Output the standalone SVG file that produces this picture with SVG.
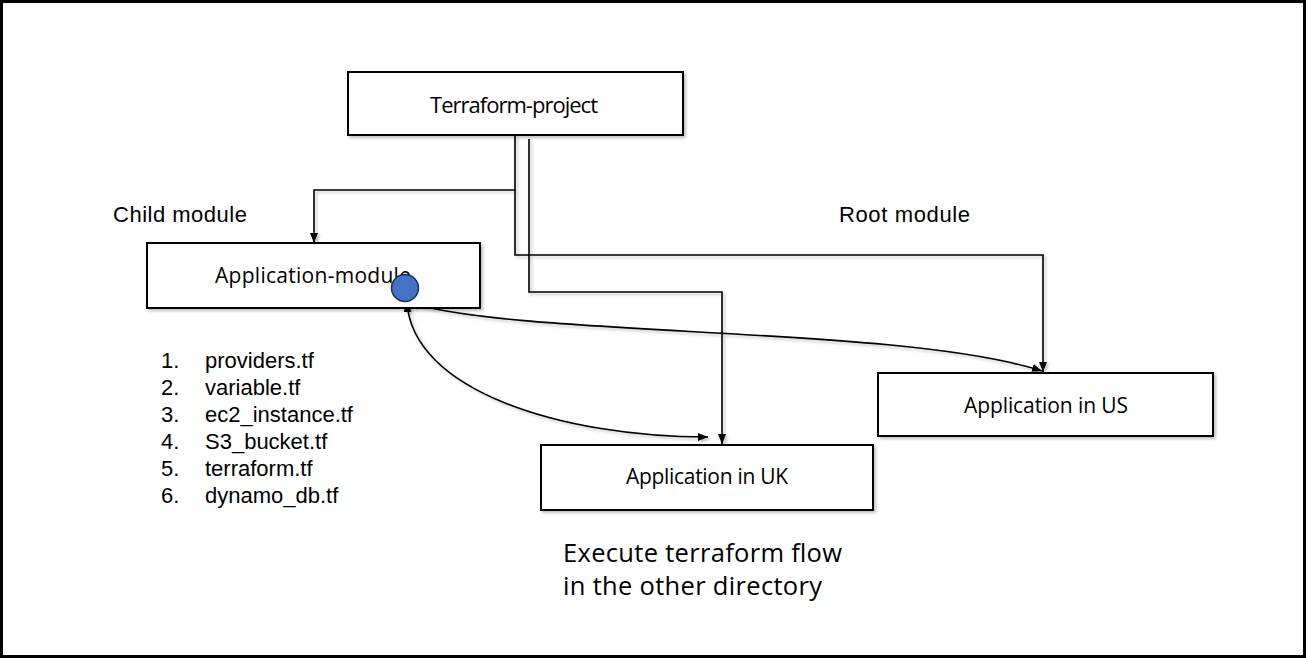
<svg xmlns="http://www.w3.org/2000/svg" width="1306" height="659" viewBox="0 0 1306 659">
<style>
.box{fill:#fff;stroke:#000;stroke-width:2}
.lbl{font-family:"Open Sans",Lato,sans-serif;fill:#000}
.ar{font-family:"Liberation Sans",Arial,sans-serif;fill:#000}
.ln{fill:none;stroke:#000;stroke-width:1.6}
</style>
<defs>
<filter id="sh" x="-10%" y="-10%" width="130%" height="140%">
<feDropShadow dx="2" dy="2" stdDeviation="1.5" flood-color="#000" flood-opacity="0.25"/>
</filter>
<marker id="ah" viewBox="0 0 10 8" refX="10" refY="4" markerWidth="10" markerHeight="8" markerUnits="userSpaceOnUse" orient="auto-start-reverse">
<path d="M0,0 L10,4 L0,8 z" fill="#000"/>
</marker>
</defs>
<rect x="1.5" y="1.5" width="1303" height="655" fill="#fff" stroke="#000" stroke-width="3"/>

<g id="connectors" filter="url(#sh)">
<path class="ln" d="M515,136 V255 H1043 V372" marker-end="url(#ah)"/>
<path class="ln" d="M515,190 H314 V243" marker-end="url(#ah)"/>
<path class="ln" d="M529,139 V292 H722 V444" marker-end="url(#ah)"/>
<path class="ln" d="M407,302 C412,390 560,437 708,437" marker-start="url(#ah)" marker-end="url(#ah)"/>
<path class="ln" d="M407,302 C520,338 900,325 1042,371" marker-start="url(#ah)" marker-end="url(#ah)"/>
</g>

<g id="terraform-project">
<rect class="box" x="348" y="72" width="335" height="63" filter="url(#sh)"/>
<text class="lbl" x="430" y="113" font-size="22" textLength="168">Terraform-project</text>
</g>

<g id="application-module">
<rect class="box" x="147" y="243" width="333" height="65" filter="url(#sh)"/>
<text class="lbl" x="215" y="283" font-size="21" textLength="196">Application-module</text>
</g>

<g id="application-uk">
<rect class="box" x="541" y="445" width="332" height="65" filter="url(#sh)"/>
<text class="lbl" x="626" y="484" font-size="21" textLength="162">Application in UK</text>
</g>

<g id="application-us">
<rect class="box" x="878" y="373" width="335" height="63" filter="url(#sh)"/>
<text class="lbl" x="964" y="413" font-size="21" textLength="164">Application in US</text>
</g>

<g id="module-dot">
<circle cx="405" cy="288" r="13.5" fill="#4472C4" stroke="#1c2f55" stroke-width="1.5"/>
</g>

<g id="labels">
<text class="ar" x="113" y="222" font-size="22" textLength="134">Child module</text>
<text class="ar" x="839" y="222" font-size="22" textLength="131">Root module</text>
<text class="lbl" x="563" y="562" font-size="25.5" textLength="279">Execute terraform flow</text>
<text class="lbl" x="563" y="595" font-size="25.5" textLength="259">in the other directory</text>
</g>

<g id="file-list" class="ar" font-size="22">
<text x="161" y="368">1.</text><text x="205" y="368">providers.tf</text>
<text x="161" y="395">2.</text><text x="205" y="395">variable.tf</text>
<text x="161" y="422">3.</text><text x="205" y="422">ec2_instance.tf</text>
<text x="161" y="449">4.</text><text x="205" y="449">S3_bucket.tf</text>
<text x="161" y="476">5.</text><text x="205" y="476">terraform.tf</text>
<text x="161" y="503">6.</text><text x="205" y="503">dynamo_db.tf</text>
</g>
</svg>
